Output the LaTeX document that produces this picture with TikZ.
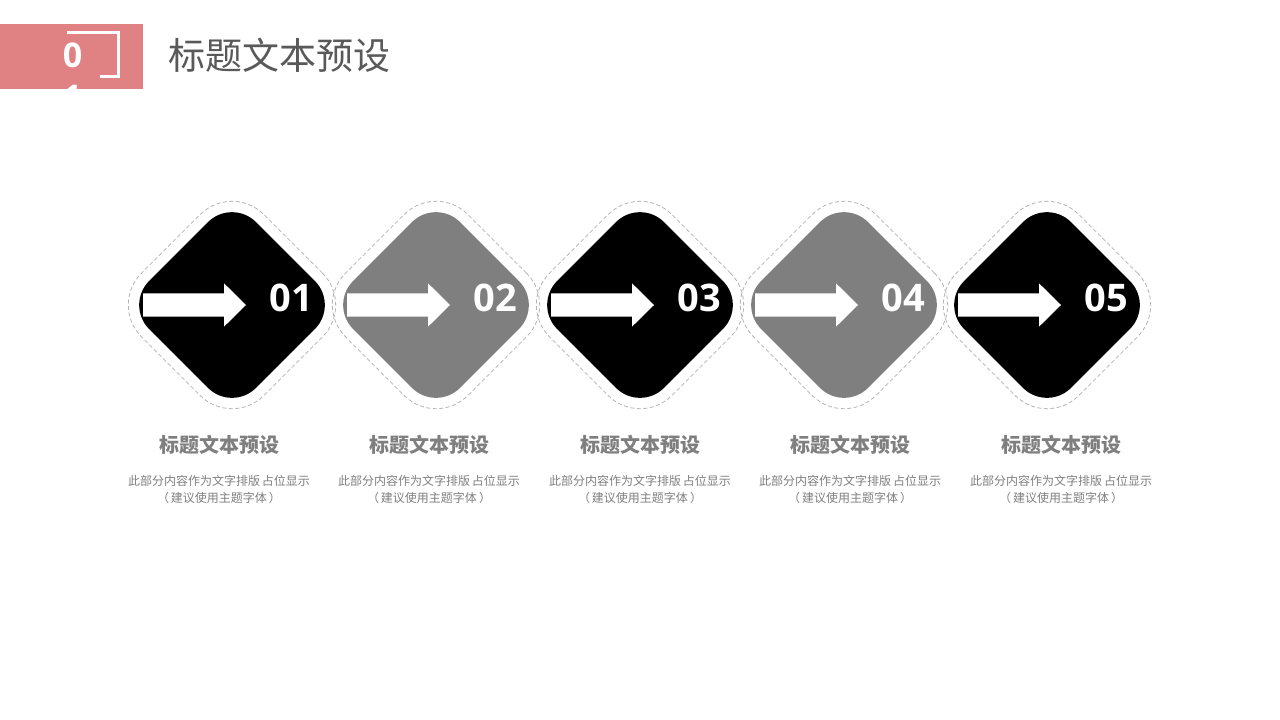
\documentclass[tikz,border=0pt]{standalone}
\usepackage{fontspec}
\newfontfamily\cjk{Noto Sans CJK SC}
\newfontfamily\numfont{Open Sans}
\usetikzlibrary{shapes.geometric}
\definecolor{pinkbar}{HTML}{E08283}
\definecolor{titlegray}{HTML}{595959}
\definecolor{labgray}{HTML}{7F7F7F}
\definecolor{descgray}{HTML}{7F7F7F}
\definecolor{midgray}{HTML}{7F7F7F}
\definecolor{dashgray}{HTML}{B4B4B4}
\tikzset{
  innerdia/.style={diamond, aspect=1, inner sep=0pt, minimum width=214pt, minimum height=214pt, rounded corners=34pt, draw=none},
  outerdia/.style={diamond, aspect=1, inner sep=0pt, minimum width=245pt, minimum height=245pt, rounded corners=45pt, draw=dashgray, line width=0.8pt, dash pattern=on 4pt off 2.5pt},
  numtext/.style={font=\numfont\bfseries\fontsize{38}{40}\selectfont, text=white, inner sep=0pt},
  labtext/.style={font=\cjk\bfseries\fontsize{20}{24}\selectfont, text=labgray, inner sep=0pt},
  desctext/.style={font=\cjk\fontsize{12}{17}\selectfont, text=descgray, inner sep=0pt, align=center},
  arrowfill/.style={fill=white, draw=none}
}
\begin{document}
\begin{tikzpicture}[x=1pt,y=-1pt]
\useasboundingbox (0,0) rectangle (1280,720);
\fill[white] (0,0) rectangle (1280,720);
% header
\fill[pinkbar] (0,24) rectangle (143,89);
\draw[white, line width=3pt] (67,32) -- (118,32) -- (118,76) -- (100,76);
\node[font=\numfont\bfseries\fontsize{34}{40}\selectfont, text=white, inner sep=0pt, anchor=center] (h0) at (72.5,55) {0};
\begin{scope}
\clip (0,24) rectangle (143,89);
\node[font=\numfont\bfseries\fontsize{34}{40}\selectfont, text=white, inner sep=0pt, anchor=center] (h1) at (72.5,97) {1};
\end{scope}
\node[font=\cjk\fontsize{37}{40}\selectfont, text=titlegray, inner sep=0pt, anchor=west] (title) at (168,55) {标题文本预设};
% steps
\foreach \i/\cx/\lx/\col in {1/232/219/black, 2/436/429/midgray, 3/640/640/black, 4/844/850/midgray, 5/1047/1061/black}{
  \node[outerdia] (o\i) at (\cx,305) {};
  \node[innerdia, fill=\col] (d\i) at (\cx,305) {};
  \fill[arrowfill] ([xshift=-89pt,yshift=11.7pt]d\i.center) -- ([xshift=-8pt,yshift=11.7pt]d\i.center) -- ([xshift=-8pt,yshift=21.7pt]d\i.center) -- ([xshift=14pt]d\i.center) -- ([xshift=-8pt,yshift=-21.7pt]d\i.center) -- ([xshift=-8pt,yshift=-11.7pt]d\i.center) -- ([xshift=-89pt,yshift=-11.7pt]d\i.center) -- cycle;
  \node[numtext] (n\i) at ([xshift=59.5pt,yshift=7pt]d\i.center) {0\i};
  \node[labtext] (l\i) at (\lx,445) {标题文本预设};
  \node[desctext] (t\i) at (\lx,489) {此部分内容作为文字排版\,占位显示\\（\,建议使用主题字体\,）};
}
\end{tikzpicture}
\end{document}
